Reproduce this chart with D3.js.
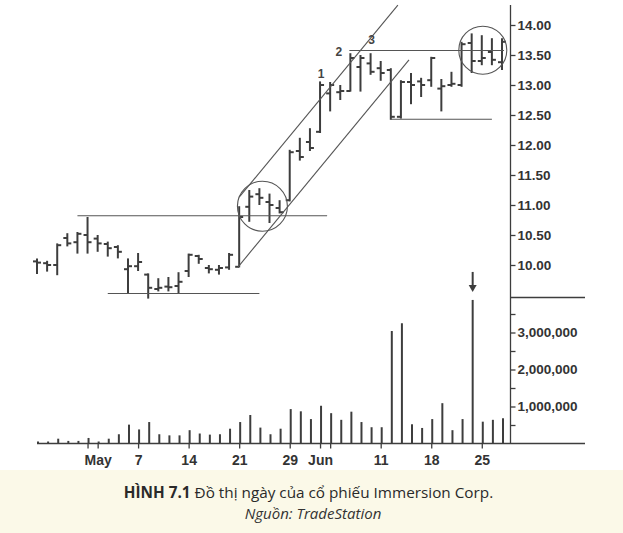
<!DOCTYPE html>
<html><head><meta charset="utf-8">
<script src="https://cdn.jsdelivr.net/npm/d3@7"></script>
<style>
html,body{margin:0;padding:0;background:#fff;}
svg{display:block;}
</style></head>
<body>
<script>
// ---------- DATA ----------
const dates = ["Apr 23","Apr 24","Apr 25","Apr 26","Apr 27","Apr 30","May 1","May 2","May 3","May 4",
"May 7","May 8","May 9","May 10","May 11","May 14","May 15","May 16","May 17","May 18",
"May 21","May 22","May 23","May 24","May 25","May 29","May 30","May 31","Jun 1",
"Jun 4","Jun 5","Jun 6","Jun 7","Jun 8","Jun 11","Jun 12","Jun 13","Jun 14","Jun 15",
"Jun 18","Jun 19","Jun 20","Jun 21","Jun 22","Jun 25","Jun 26","Jun 27"];
const opens  = [10.06,10.03,10.00,10.45,10.38,10.50,10.44,10.35,10.30,9.93,9.98,9.84,9.60,9.64,9.65,9.90,10.15,9.95,9.92,9.96,9.97,10.97,11.18,11.05,10.95,11.08,11.90,12.05,12.22,12.86,12.88,12.90,13.30,13.36,13.28,13.25,12.47,13.05,13.06,13.08,12.94,13.00,13.00,13.70,13.40,13.55,13.38];
const highs  = [10.11,10.07,10.36,10.53,10.55,10.80,10.50,10.39,10.33,10.11,10.20,9.86,9.78,9.80,9.88,10.19,10.17,10.00,10.00,10.20,10.98,11.25,11.28,11.19,11.08,11.92,12.12,12.28,13.06,13.05,13.00,13.53,13.50,13.53,13.40,13.28,13.08,13.20,13.12,13.47,13.10,13.22,13.72,13.86,13.83,13.78,13.78];
const lows   = [9.85,9.89,9.83,10.31,10.19,10.19,10.22,10.14,10.11,9.53,9.90,9.44,9.56,9.56,9.53,9.80,10.02,9.86,9.84,9.92,9.96,10.72,11.00,10.70,10.86,11.06,11.74,11.90,12.20,12.56,12.75,12.89,12.89,13.17,13.07,12.42,12.44,12.68,12.80,12.97,12.56,12.97,12.97,13.20,13.33,13.33,13.25];
const closes = [10.04,10.00,10.33,10.36,10.52,10.38,10.36,10.28,10.22,9.98,10.05,9.62,9.62,9.63,9.72,10.17,10.10,9.93,9.95,10.17,10.80,11.14,11.12,11.00,10.88,11.88,11.80,11.95,13.00,13.00,12.90,13.45,13.45,13.22,13.20,12.47,13.05,13.00,13.00,13.45,12.98,13.02,13.68,13.40,13.45,13.42,13.72];
const volumes = [50000,40000,130000,70000,70000,150000,50000,130000,250000,510000,380000,580000,250000,220000,220000,360000,270000,240000,250000,400000,580000,770000,430000,250000,400000,930000,870000,660000,1020000,820000,640000,860000,580000,440000,440000,3040000,3250000,520000,420000,660000,1090000,360000,660000,3880000,590000,640000,680000];

const xTickDates  = ["Apr 30","May 1","May 7","May 14","May 21","May 29","Jun 1","Jun 4","Jun 11","Jun 18","Jun 25"];
const xLabelDates = ["May 1","May 7","May 14","May 21","May 29","Jun 1","Jun 11","Jun 18","Jun 25"];
const xLabelTexts = ["May","7","14","21","29","Jun","11","18","25"];
const priceTicks = [10,10.5,11,11.5,12,12.5,13,13.5,14];
const volTicks = [500000,1000000,1500000,2000000,2500000,3000000,3500000];
const volLabelTicks = [1000000,2000000,3000000];

// annotations in data terms: [date index, price]
const hLines = [
  {from:7,  to:22, price:9.525},
  {from:4,  to:28.7, price:10.82},
  {from:30.9, to:46.2, price:13.575},
  {from:35, to:45, price:12.43}
];
const channelLines = [
  {p0:[20,11.13], p1:[35.7,14.33]},
  {p0:[19.9,9.97], p1:[36.8,13.42]}
];
const circles = [ {c:[22.3,10.98], r:25}, {c:[44.1,13.58], r:24} ];
const markLabels = [ {t:"1", i:28.1, p:13.12}, {t:"2", i:29.85, p:13.49}, {t:"3", i:33.1, p:13.69} ];
const arrowIndex = 43;

// ---------- DRAW ----------
const W = 623, H = 533;
const ink = "#3d3d3d";
const svg = d3.select("body").append("svg").attr("width", W).attr("height", H);
svg.append("rect").attr("width", W).attr("height", H).attr("fill", "#ffffff");
svg.append("rect").attr("x",0).attr("y",470).attr("width",W).attr("height",H-470).attr("fill","#fbf9e8");

const x = d3.scalePoint().domain(dates).range([37, 502]);
const xi = d3.scaleLinear().domain([0, dates.length-1]).range(x.range());
const yP = d3.scaleLinear().domain([10, 14]).range([265, 25]);
const yV = d3.scaleLinear().domain([0, 3000000]).range([443.5, 332.5]);
const axisX = 510.5, baseY = 443.5;

// axis frame
svg.append("line").attr("x1",axisX).attr("x2",axisX).attr("y1",5).attr("y2",baseY).attr("stroke",ink).attr("stroke-width",1.3);
svg.append("line").attr("x1",37).attr("x2",585).attr("y1",baseY).attr("y2",baseY).attr("stroke",ink).attr("stroke-width",1.3);
svg.append("line").attr("x1",axisX).attr("x2",585).attr("y1",297.5).attr("y2",297.5).attr("stroke",ink).attr("stroke-width",1.3);

// price axis
const pAxis = d3.axisRight(yP).tickValues(priceTicks).tickFormat(d3.format(".2f")).tickSize(5).tickPadding(2);
const gP = svg.append("g").attr("transform",`translate(${axisX},0)`).call(pAxis);
// volume axis
const vAxis = d3.axisRight(yV).tickValues(volTicks).tickFormat(d => volLabelTicks.includes(d) ? d3.format(",")(d) : "").tickSize(5).tickPadding(2);
const gV = svg.append("g").attr("transform",`translate(${axisX},0)`).call(vAxis);
[gP,gV].forEach(g=>{
  g.select(".domain").remove();
  g.selectAll(".tick line").attr("stroke",ink).attr("stroke-width",1.3);
  g.selectAll(".tick text").attr("fill","#333").attr("font-family","'Liberation Sans', Arial, sans-serif")
   .attr("font-weight","bold").attr("font-size","13.5px");
});

// x axis
const xAxis = d3.axisBottom(x).tickValues(xTickDates)
  .tickFormat(d => { const k = xLabelDates.indexOf(d); return k >= 0 ? xLabelTexts[k] : ""; })
  .tickSize(5).tickPadding(7);
const gX = svg.append("g").attr("transform",`translate(0,${baseY})`).call(xAxis);
gX.select(".domain").remove();
gX.selectAll(".tick line").attr("stroke",ink).attr("stroke-width",1.3);
gX.selectAll(".tick text").attr("fill","#333").attr("font-family","'Liberation Sans', Arial, sans-serif")
  .attr("font-weight","bold").attr("font-size","14px");

// OHLC bars
const bars = svg.append("g").attr("stroke", ink).attr("stroke-width", 2);
dates.forEach((d,i)=>{
  const cx = x(d);
  bars.append("line").attr("x1",cx).attr("x2",cx).attr("y1",yP(highs[i])).attr("y2",yP(lows[i]));
  bars.append("line").attr("x1",cx-4).attr("x2",cx).attr("y1",yP(opens[i])).attr("y2",yP(opens[i]));
  bars.append("line").attr("x1",cx).attr("x2",cx+4).attr("y1",yP(closes[i])).attr("y2",yP(closes[i]));
});

// volume bars
const vb = svg.append("g").attr("stroke", ink).attr("stroke-width", 2);
dates.forEach((d,i)=>{
  vb.append("line").attr("x1",x(d)+1).attr("x2",x(d)+1).attr("y1",yV(0)).attr("y2",Math.min(yV(volumes[i]), yV(0)-2));
});

// annotations
const ann = svg.append("g").attr("stroke","#555").attr("stroke-width",1.1).attr("fill","none");
hLines.forEach(h=>{
  ann.append("line").attr("x1",xi(h.from)).attr("x2",xi(h.to)).attr("y1",yP(h.price)).attr("y2",yP(h.price));
});
channelLines.forEach(c=>{
  ann.append("line").attr("x1",xi(c.p0[0])).attr("y1",yP(c.p0[1])).attr("x2",xi(c.p1[0])).attr("y2",yP(c.p1[1]));
});
circles.forEach(c=>{
  ann.append("circle").attr("cx",xi(c.c[0])).attr("cy",yP(c.c[1])).attr("r",c.r);
});
markLabels.forEach(m=>{
  svg.append("text").attr("x",xi(m.i)).attr("y",yP(m.p)).attr("text-anchor","middle")
    .attr("font-family","'Liberation Sans', Arial, sans-serif").attr("font-size","12px").attr("font-weight","bold")
    .attr("fill","#444").text(m.t);
});
// arrow above the volume spike
const ax = x(dates[arrowIndex]) + 1;
const tipY = yV(volumes[arrowIndex]) - 8;
svg.append("line").attr("x1",ax).attr("x2",ax).attr("y1",tipY-20).attr("y2",tipY-5).attr("stroke",ink).attr("stroke-width",2);
svg.append("path").attr("d",`M${ax-4},${tipY-7} L${ax+4},${tipY-7} L${ax},${tipY} Z`).attr("fill",ink);

// caption
const cap = svg.append("text").attr("x",308.5).attr("y",497.5).attr("text-anchor","middle")
  .attr("font-family","'Open Sans', 'Noto Sans', sans-serif").attr("font-size","15.3px").attr("fill","#2a2a2a");
cap.append("tspan").attr("font-weight","bold").text("HÌNH 7.1");
cap.append("tspan").text(" Đồ thị ngày của cổ phiếu Immersion Corp.");
svg.append("text").attr("x",313).attr("y",518.5).attr("text-anchor","middle")
  .attr("font-family","'Open Sans', 'Noto Sans', sans-serif").attr("font-size","15px").attr("font-style","italic")
  .attr("fill","#333").text("Nguồn: TradeStation");
</script>
</body></html>
